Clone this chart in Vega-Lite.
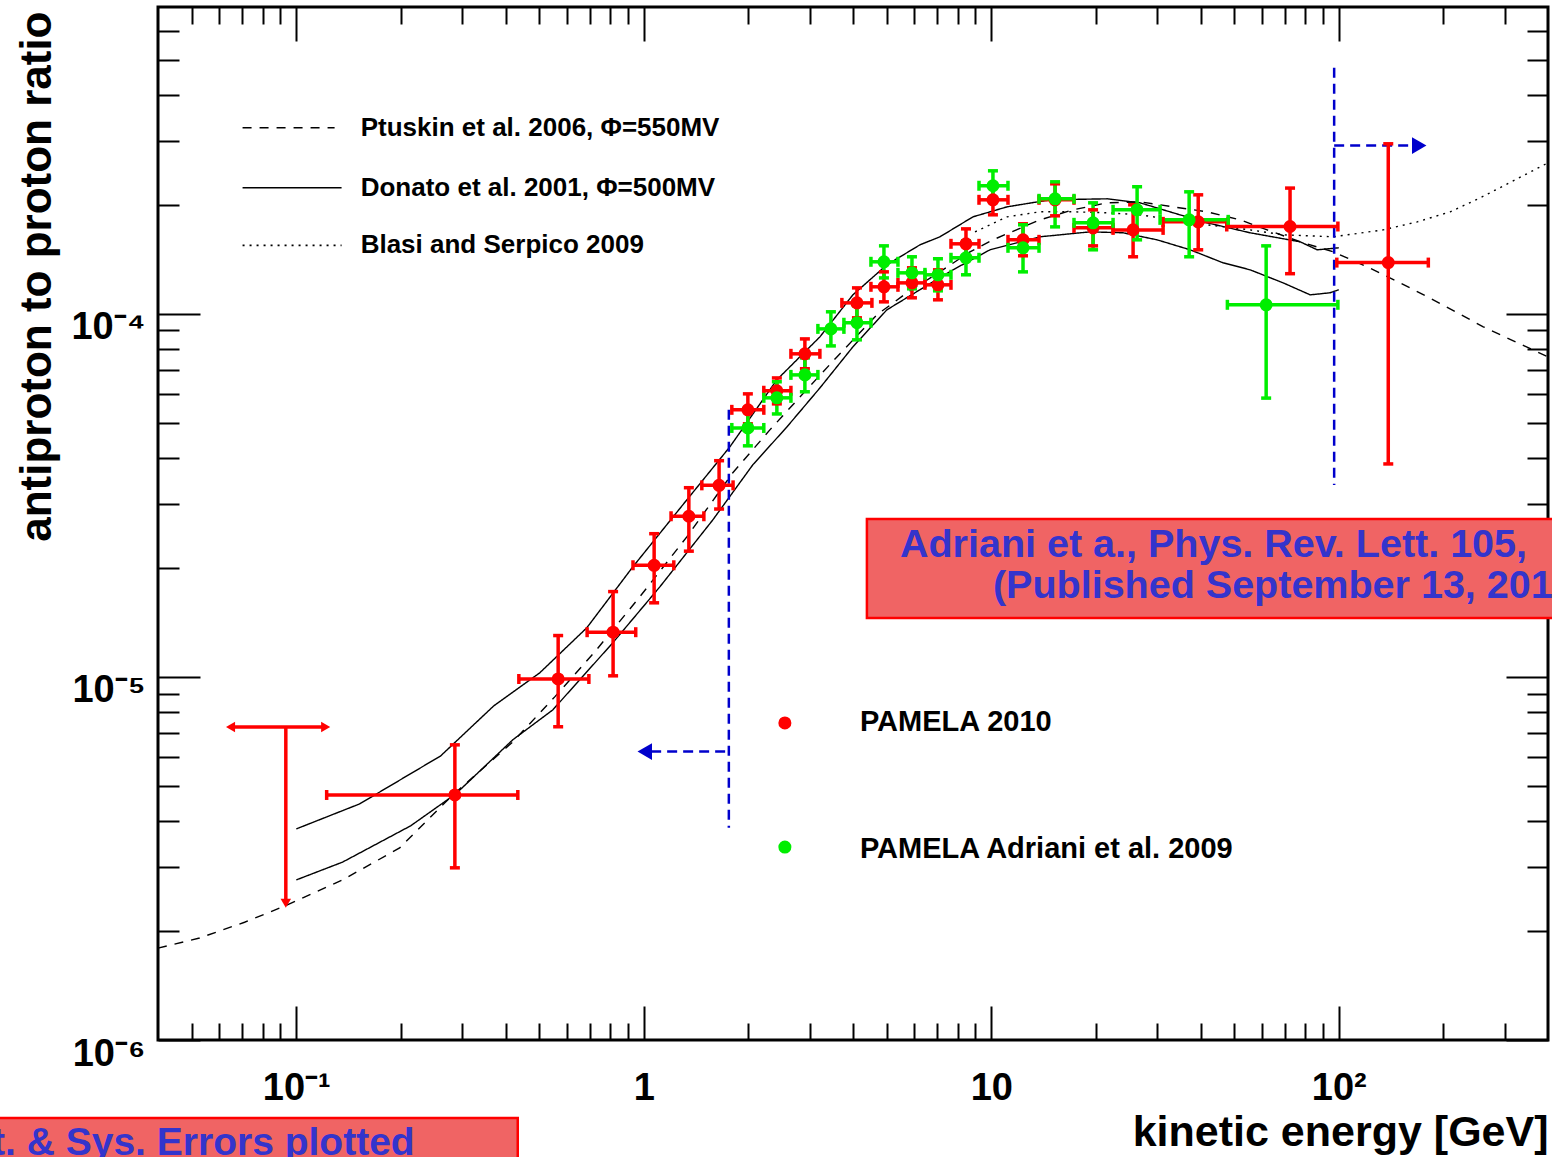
{
  "$schema": "https://vega.github.io/schema/vega-lite/v6.json",
  "width": 1390,
  "height": 1033,
  "autosize": {"type": "none"},
  "padding": {"left": 158, "top": 7, "right": 4, "bottom": 117},
  "background": "white",
  "config": {
    "font": "Liberation Sans",
    "view": {"stroke": "black", "strokeWidth": 3},
    "axis": {"domain": false, "grid": false, "tickColor": "black", "tickWidth": 2, "labelColor": "black", "titleColor": "black", "labelFont": "Liberation Sans", "titleFont": "Liberation Sans", "labelFontWeight": "bold", "titleFontWeight": "bold"}
  },
  "datasets": {
    "curves": [
      {"model": "Ptuskin", "m": "P", "E": 0.04, "R": 1.79e-6},
      {"model": "Ptuskin", "m": "P", "E": 0.05267, "R": 1.91e-6},
      {"model": "Ptuskin", "m": "P", "E": 0.07099, "R": 2.11e-6},
      {"model": "Ptuskin", "m": "P", "E": 0.09378, "R": 2.35e-6},
      {"model": "Ptuskin", "m": "P", "E": 0.1359, "R": 2.76e-6},
      {"model": "Ptuskin", "m": "P", "E": 0.1983, "R": 3.38e-6},
      {"model": "Ptuskin", "m": "P", "E": 0.28, "R": 4.70e-6},
      {"model": "Ptuskin", "m": "P", "E": 0.4196, "R": 6.62e-6},
      {"model": "Ptuskin", "m": "P", "E": 0.5543, "R": 8.81e-6},
      {"model": "Ptuskin", "m": "P", "E": 0.7226, "R": 1.172e-5},
      {"model": "Ptuskin", "m": "P", "E": 0.9738, "R": 1.662e-5},
      {"model": "Ptuskin", "m": "P", "E": 1.33, "R": 2.43e-5},
      {"model": "Ptuskin", "m": "P", "E": 1.804, "R": 3.65e-5},
      {"model": "Ptuskin", "m": "P", "E": 2.306, "R": 4.79e-5},
      {"model": "Ptuskin", "m": "P", "E": 2.813, "R": 5.90e-5},
      {"model": "Ptuskin", "m": "P", "E": 3.595, "R": 7.61e-5},
      {"model": "Ptuskin", "m": "P", "E": 4.688, "R": 9.94e-5},
      {"model": "Ptuskin", "m": "P", "E": 5.719, "R": 1.143e-4},
      {"model": "Ptuskin", "m": "P", "E": 7.116, "R": 1.305e-4},
      {"model": "Ptuskin", "m": "P", "E": 8.683, "R": 1.482e-4},
      {"model": "Ptuskin", "m": "P", "E": 10.11, "R": 1.599e-4},
      {"model": "Ptuskin", "m": "P", "E": 13.81, "R": 1.815e-4},
      {"model": "Ptuskin", "m": "P", "E": 17.19, "R": 1.934e-4},
      {"model": "Ptuskin", "m": "P", "E": 21.54, "R": 2.022e-4},
      {"model": "Ptuskin", "m": "P", "E": 26.8, "R": 2.035e-4},
      {"model": "Ptuskin", "m": "P", "E": 33.36, "R": 1.971e-4},
      {"model": "Ptuskin", "m": "P", "E": 41.79, "R": 1.910e-4},
      {"model": "Ptuskin", "m": "P", "E": 52.02, "R": 1.815e-4},
      {"model": "Ptuskin", "m": "P", "E": 62.21, "R": 1.703e-4},
      {"model": "Ptuskin", "m": "P", "E": 77.43, "R": 1.579e-4},
      {"model": "Ptuskin", "m": "P", "E": 96.36, "R": 1.482e-4},
      {"model": "Ptuskin", "m": "P", "E": 120.7, "R": 1.347e-4},
      {"model": "Ptuskin", "m": "P", "E": 150.2, "R": 1.217e-4},
      {"model": "Ptuskin", "m": "P", "E": 187, "R": 1.093e-4},
      {"model": "Ptuskin", "m": "P", "E": 260.5, "R": 9.21e-5},
      {"model": "Ptuskin", "m": "P", "E": 400, "R": 7.61e-5},
      {"model": "Donato", "m": "DU", "E": 0.1, "R": 3.814e-6},
      {"model": "Donato", "m": "DU", "E": 0.1522, "R": 4.47e-6},
      {"model": "Donato", "m": "DU", "E": 0.2603, "R": 6.06e-6},
      {"model": "Donato", "m": "DU", "E": 0.3699, "R": 8.32e-6},
      {"model": "Donato", "m": "DU", "E": 0.5018, "R": 1.026e-5},
      {"model": "Donato", "m": "DU", "E": 0.6853, "R": 1.365e-5},
      {"model": "Donato", "m": "DU", "E": 0.9297, "R": 2.009e-5},
      {"model": "Donato", "m": "DU", "E": 1.3298, "R": 3.073e-5},
      {"model": "Donato", "m": "DU", "E": 1.7684, "R": 4.30e-5},
      {"model": "Donato", "m": "DU", "E": 2.415, "R": 6.58e-5},
      {"model": "Donato", "m": "DU", "E": 3.212, "R": 8.64e-5},
      {"model": "Donato", "m": "DU", "E": 3.997, "R": 1.128e-4},
      {"model": "Donato", "m": "DU", "E": 5.008, "R": 1.365e-4},
      {"model": "Donato", "m": "DU", "E": 6.233, "R": 1.549e-4},
      {"model": "Donato", "m": "DU", "E": 7.116, "R": 1.630e-4},
      {"model": "Donato", "m": "DU", "E": 8.858, "R": 1.850e-4},
      {"model": "Donato", "m": "DU", "E": 11.1, "R": 1.971e-4},
      {"model": "Donato", "m": "DU", "E": 14.76, "R": 2.061e-4},
      {"model": "Donato", "m": "DU", "E": 21.54, "R": 2.074e-4},
      {"model": "Donato", "m": "DU", "E": 26.8, "R": 2.022e-4},
      {"model": "Donato", "m": "DU", "E": 33.36, "R": 1.898e-4},
      {"model": "Donato", "m": "DU", "E": 41.79, "R": 1.781e-4},
      {"model": "Donato", "m": "DU", "E": 55.57, "R": 1.672e-4},
      {"model": "Donato", "m": "DU", "E": 77.43, "R": 1.579e-4},
      {"model": "Donato", "m": "DU", "E": 86.67, "R": 1.501e-4},
      {"model": "Donato", "m": "DU", "E": 100, "R": 1.520e-4},
      {"model": "Donato", "m": "DL", "E": 0.1, "R": 2.76e-6},
      {"model": "Donato", "m": "DL", "E": 0.1359, "R": 3.09e-6},
      {"model": "Donato", "m": "DL", "E": 0.2134, "R": 3.89e-6},
      {"model": "Donato", "m": "DL", "E": 0.2875, "R": 4.76e-6},
      {"model": "Donato", "m": "DL", "E": 0.4196, "R": 6.71e-6},
      {"model": "Donato", "m": "DL", "E": 0.547, "R": 8.11e-6},
      {"model": "Donato", "m": "DL", "E": 0.814, "R": 1.241e-5},
      {"model": "Donato", "m": "DL", "E": 1.112, "R": 1.770e-5},
      {"model": "Donato", "m": "DL", "E": 1.58, "R": 2.707e-5},
      {"model": "Donato", "m": "DL", "E": 2.06, "R": 3.84e-5},
      {"model": "Donato", "m": "DL", "E": 2.581, "R": 4.88e-5},
      {"model": "Donato", "m": "DL", "E": 3.212, "R": 6.25e-5},
      {"model": "Donato", "m": "DL", "E": 3.997, "R": 8.11e-5},
      {"model": "Donato", "m": "DL", "E": 5.008, "R": 1.026e-4},
      {"model": "Donato", "m": "DL", "E": 6.233, "R": 1.165e-4},
      {"model": "Donato", "m": "DL", "E": 7.757, "R": 1.322e-4},
      {"model": "Donato", "m": "DL", "E": 9.915, "R": 1.501e-4},
      {"model": "Donato", "m": "DL", "E": 13.81, "R": 1.630e-4},
      {"model": "Donato", "m": "DL", "E": 19.24, "R": 1.682e-4},
      {"model": "Donato", "m": "DL", "E": 23.94, "R": 1.672e-4},
      {"model": "Donato", "m": "DL", "E": 30.0, "R": 1.599e-4},
      {"model": "Donato", "m": "DL", "E": 37.34, "R": 1.501e-4},
      {"model": "Donato", "m": "DL", "E": 46.46, "R": 1.382e-4},
      {"model": "Donato", "m": "DL", "E": 55.57, "R": 1.322e-4},
      {"model": "Donato", "m": "DL", "E": 69.17, "R": 1.217e-4},
      {"model": "Donato", "m": "DL", "E": 82.74, "R": 1.128e-4},
      {"model": "Donato", "m": "DL", "E": 94.45, "R": 1.143e-4},
      {"model": "Donato", "m": "DL", "E": 100, "R": 1.165e-4},
      {"model": "Blasi", "m": "B", "E": 8.977, "R": 1.682e-4},
      {"model": "Blasi", "m": "B", "E": 11.1, "R": 1.850e-4},
      {"model": "Blasi", "m": "B", "E": 13.81, "R": 1.910e-4},
      {"model": "Blasi", "m": "B", "E": 17.19, "R": 1.910e-4},
      {"model": "Blasi", "m": "B", "E": 21.54, "R": 1.898e-4},
      {"model": "Blasi", "m": "B", "E": 26.8, "R": 1.874e-4},
      {"model": "Blasi", "m": "B", "E": 33.36, "R": 1.815e-4},
      {"model": "Blasi", "m": "B", "E": 41.79, "R": 1.759e-4},
      {"model": "Blasi", "m": "B", "E": 55.57, "R": 1.703e-4},
      {"model": "Blasi", "m": "B", "E": 69.17, "R": 1.651e-4},
      {"model": "Blasi", "m": "B", "E": 96.36, "R": 1.630e-4},
      {"model": "Blasi", "m": "B", "E": 134.2, "R": 1.703e-4},
      {"model": "Blasi", "m": "B", "E": 168.2, "R": 1.792e-4},
      {"model": "Blasi", "m": "B", "E": 209.3, "R": 1.910e-4},
      {"model": "Blasi", "m": "B", "E": 255.4, "R": 2.087e-4},
      {"model": "Blasi", "m": "B", "E": 322.1, "R": 2.34e-4},
      {"model": "Blasi", "m": "B", "E": 400, "R": 2.606e-4}
    ],
    "pts": [
      {"s": "PAMELA 2010", "E": 0.286, "R": 4.73e-6, "Elo": 0.1223, "Ehi": 0.434, "Rlo": 2.98e-6, "Rhi": 6.5e-6},
      {"s": "PAMELA 2010", "E": 0.567, "R": 9.87e-6, "Elo": 0.437, "Ehi": 0.695, "Rlo": 7.29e-6, "Rhi": 1.30e-5},
      {"s": "PAMELA 2010", "E": 0.816, "R": 1.328e-5, "Elo": 0.687, "Ehi": 0.948, "Rlo": 1.007e-5, "Rhi": 1.718e-5},
      {"s": "PAMELA 2010", "E": 1.071, "R": 2.03e-5, "Elo": 0.931, "Ehi": 1.22, "Rlo": 1.60e-5, "Rhi": 2.48e-5},
      {"s": "PAMELA 2010", "E": 1.348, "R": 2.77e-5, "Elo": 1.198, "Ehi": 1.489, "Rlo": 2.22e-5, "Rhi": 3.32e-5},
      {"s": "PAMELA 2010", "E": 1.647, "R": 3.37e-5, "Elo": 1.469, "Ehi": 1.807, "Rlo": 2.90e-5, "Rhi": 3.94e-5},
      {"s": "PAMELA 2010", "E": 1.993, "R": 5.44e-5, "Elo": 1.792, "Ehi": 2.215, "Rlo": 4.98e-5, "Rhi": 6.02e-5},
      {"s": "PAMELA 2010", "E": 2.415, "R": 6.14e-5, "Elo": 2.215, "Ehi": 2.651, "Rlo": 5.65e-5, "Rhi": 6.66e-5},
      {"s": "PAMELA 2010", "E": 2.908, "R": 7.76e-5, "Elo": 2.651, "Ehi": 3.212, "Rlo": 7.06e-5, "Rhi": 8.53e-5},
      {"s": "PAMELA 2010", "E": 4.106, "R": 1.072e-4, "Elo": 3.716, "Ehi": 4.534, "Rlo": 9.75e-5, "Rhi": 1.179e-4},
      {"s": "PAMELA 2010", "E": 4.91, "R": 1.187e-4, "Elo": 4.505, "Ehi": 5.388, "Rlo": 1.079e-4, "Rhi": 1.305e-4},
      {"s": "PAMELA 2010", "E": 5.912, "R": 1.217e-4, "Elo": 5.388, "Ehi": 6.444, "Rlo": 1.107e-4, "Rhi": 1.339e-4},
      {"s": "PAMELA 2010", "E": 7.023, "R": 1.202e-4, "Elo": 6.444, "Ehi": 7.656, "Rlo": 1.093e-4, "Rhi": 1.322e-4},
      {"s": "PAMELA 2010", "E": 8.456, "R": 1.559e-4, "Elo": 7.656, "Ehi": 9.218, "Rlo": 1.418e-4, "Rhi": 1.714e-4},
      {"s": "PAMELA 2010", "E": 10.11, "R": 2.061e-4, "Elo": 9.218, "Ehi": 11.17, "Rlo": 1.874e-4, "Rhi": 2.267e-4},
      {"s": "PAMELA 2010", "E": 12.34, "R": 1.599e-4, "Elo": 11.17, "Ehi": 13.72, "Rlo": 1.445e-4, "Rhi": 1.770e-4},
      {"s": "PAMELA 2010", "E": 15.26, "R": 2.061e-4, "Elo": 13.72, "Ehi": 17.3, "Rlo": 1.862e-4, "Rhi": 2.281e-4},
      {"s": "PAMELA 2010", "E": 19.63, "R": 1.725e-4, "Elo": 17.3, "Ehi": 22.41, "Rlo": 1.539e-4, "Rhi": 1.934e-4},
      {"s": "PAMELA 2010", "E": 25.59, "R": 1.703e-4, "Elo": 22.41, "Ehi": 31.22, "Rlo": 1.436e-4, "Rhi": 1.997e-4},
      {"s": "PAMELA 2010", "E": 39.4, "R": 1.792e-4, "Elo": 31.22, "Ehi": 48.05, "Rlo": 1.501e-4, "Rhi": 2.127e-4},
      {"s": "PAMELA 2010", "E": 72.4, "R": 1.74e-4, "Elo": 47.6, "Ehi": 99.4, "Rlo": 1.29e-4, "Rhi": 2.22e-4},
      {"s": "PAMELA 2010", "E": 138.8, "R": 1.384e-4, "Elo": 98.7, "Ehi": 181, "Rlo": 3.86e-5, "Rhi": 2.94e-4},
      {"s": "PAMELA Adriani et al. 2009", "E": 1.993, "R": 4.85e-5, "Elo": 1.792, "Ehi": 2.215, "Rlo": 4.33e-5, "Rhi": 5.44e-5},
      {"s": "PAMELA Adriani et al. 2009", "E": 2.415, "R": 5.87e-5, "Elo": 2.215, "Ehi": 2.651, "Rlo": 5.30e-5, "Rhi": 6.50e-5},
      {"s": "PAMELA Adriani et al. 2009", "E": 2.908, "R": 6.79e-5, "Elo": 2.651, "Ehi": 3.17, "Rlo": 6.10e-5, "Rhi": 7.56e-5},
      {"s": "PAMELA Adriani et al. 2009", "E": 3.455, "R": 9.09e-5, "Elo": 3.17, "Ehi": 3.766, "Rlo": 8.16e-5, "Rhi": 1.013e-4},
      {"s": "PAMELA Adriani et al. 2009", "E": 4.106, "R": 9.45e-5, "Elo": 3.766, "Ehi": 4.505, "Rlo": 8.48e-5, "Rhi": 1.052e-4},
      {"s": "PAMELA Adriani et al. 2009", "E": 4.91, "R": 1.391e-4, "Elo": 4.505, "Ehi": 5.388, "Rlo": 1.256e-4, "Rhi": 1.539e-4},
      {"s": "PAMELA Adriani et al. 2009", "E": 5.912, "R": 1.297e-4, "Elo": 5.388, "Ehi": 6.444, "Rlo": 1.172e-4, "Rhi": 1.436e-4},
      {"s": "PAMELA Adriani et al. 2009", "E": 7.023, "R": 1.281e-4, "Elo": 6.444, "Ehi": 7.656, "Rlo": 1.157e-4, "Rhi": 1.418e-4},
      {"s": "PAMELA Adriani et al. 2009", "E": 8.456, "R": 1.427e-4, "Elo": 7.656, "Ehi": 9.218, "Rlo": 1.281e-4, "Rhi": 1.589e-4},
      {"s": "PAMELA Adriani et al. 2009", "E": 10.11, "R": 2.253e-4, "Elo": 9.218, "Ehi": 11.17, "Rlo": 2.048e-4, "Rhi": 2.477e-4},
      {"s": "PAMELA Adriani et al. 2009", "E": 12.34, "R": 1.52e-4, "Elo": 11.17, "Ehi": 13.72, "Rlo": 1.305e-4, "Rhi": 1.759e-4},
      {"s": "PAMELA Adriani et al. 2009", "E": 15.26, "R": 2.074e-4, "Elo": 13.72, "Ehi": 17.3, "Rlo": 1.736e-4, "Rhi": 2.31e-4},
      {"s": "PAMELA Adriani et al. 2009", "E": 19.63, "R": 1.781e-4, "Elo": 17.3, "Ehi": 22.41, "Rlo": 1.501e-4, "Rhi": 2.022e-4},
      {"s": "PAMELA Adriani et al. 2009", "E": 26.28, "R": 1.934e-4, "Elo": 22.41, "Ehi": 30.6, "Rlo": 1.599e-4, "Rhi": 2.239e-4},
      {"s": "PAMELA Adriani et al. 2009", "E": 37.1, "R": 1.815e-4, "Elo": 30.6, "Ehi": 48.05, "Rlo": 1.436e-4, "Rhi": 2.168e-4},
      {"s": "PAMELA Adriani et al. 2009", "E": 61.8, "R": 1.059e-4, "Elo": 47.8, "Ehi": 99.4, "Rlo": 5.86e-5, "Rhi": 1.539e-4}
    ],
    "ul": [{"E": 0.0933, "R": 7.28e-6, "Elo": 0.06469, "Ehi": 0.1215, "Rlo": 2.38e-6}],
    "leg": [
      {"model": "Ptuskin", "x1": 0.07005, "x2": 0.1289, "y": 3.254e-4, "tx": 0.1532, "t": "Ptuskin et al. 2006, Φ=550MV"},
      {"model": "Donato", "x1": 0.07005, "x2": 0.135, "y": 2.224e-4, "tx": 0.1532, "t": "Donato et al. 2001, Φ=500MV"},
      {"model": "Blasi", "x1": 0.07005, "x2": 0.135, "y": 1.544e-4, "tx": 0.1532, "t": "Blasi and Serpico 2009"}
    ],
    "dleg": [
      {"s": "PAMELA 2010", "E": 2.547, "R": 7.47e-6, "tx": 4.188, "ty": 7.10e-6},
      {"s": "PAMELA Adriani et al. 2009", "E": 2.547, "R": 3.40e-6, "tx": 4.188, "ty": 3.17e-6}
    ],
    "blue": [
      {"x1": 1.757, "x2": 1.757, "y1": 5.44e-5, "y2": 3.84e-6},
      {"x1": 1.05, "x2": 1.757, "y1": 6.23e-6, "y2": 6.23e-6},
      {"x1": 96.98, "x2": 96.98, "y1": 4.76e-4, "y2": 3.38e-5},
      {"x1": 96.98, "x2": 162.7, "y1": 2.908e-4, "y2": 2.908e-4}
    ],
    "arrows": [
      {"E": 1.0066, "R": 6.23e-6, "dir": "left"},
      {"E": 170.4, "R": 2.908e-4, "dir": "right"}
    ],
    "boxes": [
      {"x1": 4.386, "x2": 434, "y1": 2.724e-5, "y2": 1.454e-5},
      {"x1": 0.01353, "x2": 0.4338, "y1": 6.10e-7, "y2": 4.52e-7}
    ],
    "notesL": [
      {"t": "Adriani et a., Phys. Rev. Lett. 105,", "E": 5.459, "R": 2.141e-5},
      {"t": "(Published September 13, 201", "E": 10.11, "R": 1.651e-5}
    ],
    "notesR": [
      {"t": "Stat. & Sys. Errors plotted", "E": 0.2191, "R": 4.822e-7}
    ]
  },
  "resolve": {"axis": {"x": "independent", "y": "independent"}},
  "layer": [
    {
      "data": {"name": "curves"},
      "mark": {"type": "line", "color": "black", "strokeWidth": 1.4},
      "encoding": {
        "x": {"field": "E", "type": "quantitative", "scale": {"type": "log", "domain": [0.04, 400], "nice": false},
          "axis": {"orient": "bottom", "values": [0.05,0.06,0.07,0.08,0.09,0.1,0.2,0.3,0.4,0.5,0.6,0.7,0.8,0.9,1,2,3,4,5,6,7,8,9,10,20,30,40,50,60,70,80,90,100,200,300],
            "labelExpr": "datum.value==0.1?'10⁻¹':datum.value==1?'1':datum.value==10?'10':datum.value==100?'10²':''",
            "tickSize": {"condition": {"test": "datum.value==0.1||datum.value==1||datum.value==10||datum.value==100", "value": -34}, "value": -17},
            "labelPadding": 93, "labelBaseline": "alphabetic", "labelFontSize": 38, "labelFlush": false, "labelOverlap": false,
            "title": "kinetic energy [GeV]", "titleFontSize": 43, "titleAnchor": "end", "titleAlign": "right", "titleBaseline": "alphabetic", "titleX": 1390, "titleY": 105}},
        "y": {"field": "R", "type": "quantitative", "scale": {"type": "log", "domain": [1e-6, 7e-4], "nice": false},
          "axis": {"orient": "left", "values": [1e-6,2e-6,3e-6,4e-6,5e-6,6e-6,7e-6,8e-6,9e-6,1e-5,2e-5,3e-5,4e-5,5e-5,6e-5,7e-5,8e-5,9e-5,1e-4,2e-4,3e-4,4e-4,5e-4,6e-4],
            "labelExpr": "datum.value==0.000001?'10⁻⁶':datum.value==0.00001?'10⁻⁵':datum.value==0.0001?'10⁻⁴':''",
            "tickSize": {"condition": {"test": "datum.value==0.000001||datum.value==0.00001||datum.value==0.0001", "value": -42}, "value": -21},
            "labelPadding": 55, "labelOffset": 25, "labelBaseline": "alphabetic", "labelAlign": "right", "labelFontSize": 38, "labelOverlap": false, "labelFlush": false,
            "title": "antiproton to proton ratio", "titleFontSize": 44, "titleAngle": -90, "titleAnchor": "end", "titleAlign": "right", "titleBaseline": "alphabetic", "titleX": -108, "titleY": 4}},
        "detail": {"field": "m"},
        "strokeDash": {"field": "model", "type": "nominal", "scale": {"domain": ["Ptuskin", "Donato", "Blasi"], "range": [[9, 8], [1, 0], [2, 5]]}, "legend": null}
      }
    },
    {
      "data": {"name": "leg"},
      "mark": {"type": "rule", "color": "black", "strokeWidth": 1.6},
      "encoding": {
        "x": {"field": "x1", "type": "quantitative", "scale": {"type": "log", "domain": [0.04, 400], "nice": false},
          "axis": {"orient": "top", "values": [0.05,0.06,0.07,0.08,0.09,0.1,0.2,0.3,0.4,0.5,0.6,0.7,0.8,0.9,1,2,3,4,5,6,7,8,9,10,20,30,40,50,60,70,80,90,100,200,300],
            "labels": false, "title": null,
            "tickSize": {"condition": {"test": "datum.value==0.1||datum.value==1||datum.value==10||datum.value==100", "value": -34}, "value": -17}}},
        "x2": {"field": "x2"},
        "y": {"field": "y", "type": "quantitative", "scale": {"type": "log", "domain": [1e-6, 7e-4], "nice": false},
          "axis": {"orient": "right", "values": [1e-6,2e-6,3e-6,4e-6,5e-6,6e-6,7e-6,8e-6,9e-6,1e-5,2e-5,3e-5,4e-5,5e-5,6e-5,7e-5,8e-5,9e-5,1e-4,2e-4,3e-4,4e-4,5e-4,6e-4],
            "labels": false, "title": null,
            "tickSize": {"condition": {"test": "datum.value==0.000001||datum.value==0.00001||datum.value==0.0001", "value": -42}, "value": -21}}},
        "strokeDash": {"field": "model", "type": "nominal", "scale": {"domain": ["Ptuskin", "Donato", "Blasi"], "range": [[9, 8], [1, 0], [2, 5]]}, "legend": null}
      }
    },
    {
      "data": {"name": "leg"},
      "mark": {"type": "text", "align": "left", "baseline": "middle", "fontSize": 26, "fontWeight": "bold", "color": "black"},
      "encoding": {
        "x": {"field": "tx", "type": "quantitative", "scale": {"type": "log", "domain": [0.04, 400], "nice": false}, "axis": null},
        "y": {"field": "y", "type": "quantitative", "scale": {"type": "log", "domain": [1e-6, 7e-4], "nice": false}, "axis": null},
        "text": {"field": "t"}
      }
    },
    {
      "data": {"name": "blue"},
      "mark": {"type": "rule", "color": "#0000cc", "strokeWidth": 2.5, "strokeDash": [10, 6]},
      "encoding": {
        "x": {"field": "x1", "type": "quantitative", "scale": {"type": "log", "domain": [0.04, 400], "nice": false}, "axis": null},
        "x2": {"field": "x2"},
        "y": {"field": "y1", "type": "quantitative", "scale": {"type": "log", "domain": [1e-6, 7e-4], "nice": false}, "axis": null},
        "y2": {"field": "y2"}
      }
    },
    {
      "data": {"name": "arrows"},
      "mark": {"type": "point", "filled": true, "size": 280, "color": "#0000cc", "opacity": 1},
      "encoding": {
        "x": {"field": "E", "type": "quantitative", "scale": {"type": "log", "domain": [0.04, 400], "nice": false}, "axis": null},
        "y": {"field": "R", "type": "quantitative", "scale": {"type": "log", "domain": [1e-6, 7e-4], "nice": false}, "axis": null},
        "shape": {"field": "dir", "type": "nominal", "scale": {"domain": ["left", "right"], "range": ["triangle-left", "triangle-right"]}, "legend": null}
      }
    },
    {
      "data": {"name": "boxes"},
      "mark": {"type": "rect", "fill": "#f06464", "stroke": "#ff0000", "strokeWidth": 2.5},
      "encoding": {
        "x": {"field": "x1", "type": "quantitative", "scale": {"type": "log", "domain": [0.04, 400], "nice": false}, "axis": null},
        "x2": {"field": "x2"},
        "y": {"field": "y1", "type": "quantitative", "scale": {"type": "log", "domain": [1e-6, 7e-4], "nice": false}, "axis": null},
        "y2": {"field": "y2"}
      }
    },
    {
      "data": {"name": "notesL"},
      "mark": {"type": "text", "align": "left", "baseline": "alphabetic", "fontSize": 39.5, "fontWeight": "bold", "color": "#3434cc"},
      "encoding": {
        "x": {"field": "E", "type": "quantitative", "scale": {"type": "log", "domain": [0.04, 400], "nice": false}, "axis": null},
        "y": {"field": "R", "type": "quantitative", "scale": {"type": "log", "domain": [1e-6, 7e-4], "nice": false}, "axis": null},
        "text": {"field": "t"}
      }
    },
    {
      "data": {"name": "notesR"},
      "mark": {"type": "text", "align": "right", "baseline": "alphabetic", "fontSize": 39, "fontWeight": "bold", "color": "#3434cc"},
      "encoding": {
        "x": {"field": "E", "type": "quantitative", "scale": {"type": "log", "domain": [0.04, 400], "nice": false}, "axis": null},
        "y": {"field": "R", "type": "quantitative", "scale": {"type": "log", "domain": [1e-6, 7e-4], "nice": false}, "axis": null},
        "text": {"field": "t"}
      }
    },
    {
      "data": {"name": "pts"},
      "mark": {"type": "rule", "strokeWidth": 3.5},
      "encoding": {
        "x": {"field": "Elo", "type": "quantitative", "scale": {"type": "log", "domain": [0.04, 400], "nice": false}, "axis": null},
        "x2": {"field": "Ehi"},
        "y": {"field": "R", "type": "quantitative", "scale": {"type": "log", "domain": [1e-6, 7e-4], "nice": false}, "axis": null},
        "color": {"field": "s", "type": "nominal", "scale": {"domain": ["PAMELA 2010", "PAMELA Adriani et al. 2009"], "range": ["#ff0000", "#00ee00"]}, "legend": null}
      }
    },
    {
      "data": {"name": "pts"},
      "mark": {"type": "rule", "strokeWidth": 3.5},
      "encoding": {
        "x": {"field": "E", "type": "quantitative", "scale": {"type": "log", "domain": [0.04, 400], "nice": false}, "axis": null},
        "y": {"field": "Rlo", "type": "quantitative", "scale": {"type": "log", "domain": [1e-6, 7e-4], "nice": false}, "axis": null},
        "y2": {"field": "Rhi"},
        "color": {"field": "s", "type": "nominal", "scale": {"domain": ["PAMELA 2010", "PAMELA Adriani et al. 2009"], "range": ["#ff0000", "#00ee00"]}, "legend": null}
      }
    },
    {
      "data": {"name": "pts"},
      "transform": [{"fold": ["Elo", "Ehi"], "as": ["k", "xe"]}],
      "mark": {"type": "tick", "orient": "vertical", "size": 10, "thickness": 3.5, "opacity": 1},
      "encoding": {
        "x": {"field": "xe", "type": "quantitative", "scale": {"type": "log", "domain": [0.04, 400], "nice": false}, "axis": null},
        "y": {"field": "R", "type": "quantitative", "scale": {"type": "log", "domain": [1e-6, 7e-4], "nice": false}, "axis": null},
        "color": {"field": "s", "type": "nominal", "scale": {"domain": ["PAMELA 2010", "PAMELA Adriani et al. 2009"], "range": ["#ff0000", "#00ee00"]}, "legend": null}
      }
    },
    {
      "data": {"name": "pts"},
      "transform": [{"fold": ["Rlo", "Rhi"], "as": ["k", "ye"]}],
      "mark": {"type": "tick", "orient": "horizontal", "size": 10, "thickness": 3.5, "opacity": 1},
      "encoding": {
        "x": {"field": "E", "type": "quantitative", "scale": {"type": "log", "domain": [0.04, 400], "nice": false}, "axis": null},
        "y": {"field": "ye", "type": "quantitative", "scale": {"type": "log", "domain": [1e-6, 7e-4], "nice": false}, "axis": null},
        "color": {"field": "s", "type": "nominal", "scale": {"domain": ["PAMELA 2010", "PAMELA Adriani et al. 2009"], "range": ["#ff0000", "#00ee00"]}, "legend": null}
      }
    },
    {
      "data": {"name": "pts"},
      "mark": {"type": "circle", "size": 170, "opacity": 1},
      "encoding": {
        "x": {"field": "E", "type": "quantitative", "scale": {"type": "log", "domain": [0.04, 400], "nice": false}, "axis": null},
        "y": {"field": "R", "type": "quantitative", "scale": {"type": "log", "domain": [1e-6, 7e-4], "nice": false}, "axis": null},
        "color": {"field": "s", "type": "nominal", "scale": {"domain": ["PAMELA 2010", "PAMELA Adriani et al. 2009"], "range": ["#ff0000", "#00ee00"]}, "legend": null}
      }
    },
    {
      "data": {"name": "ul"},
      "mark": {"type": "rule", "color": "#ff0000", "strokeWidth": 3.5},
      "encoding": {
        "x": {"field": "Elo", "type": "quantitative", "scale": {"type": "log", "domain": [0.04, 400], "nice": false}, "axis": null},
        "x2": {"field": "Ehi"},
        "y": {"field": "R", "type": "quantitative", "scale": {"type": "log", "domain": [1e-6, 7e-4], "nice": false}, "axis": null}
      }
    },
    {
      "data": {"name": "ul"},
      "mark": {"type": "rule", "color": "#ff0000", "strokeWidth": 3.5},
      "encoding": {
        "x": {"field": "E", "type": "quantitative", "scale": {"type": "log", "domain": [0.04, 400], "nice": false}, "axis": null},
        "y": {"field": "R", "type": "quantitative", "scale": {"type": "log", "domain": [1e-6, 7e-4], "nice": false}, "axis": null},
        "y2": {"field": "Rlo"}
      }
    },
    {
      "data": {"name": "ul"},
      "mark": {"type": "point", "shape": "triangle-left", "filled": true, "size": 110, "color": "#ff0000", "opacity": 1},
      "encoding": {
        "x": {"field": "Elo", "type": "quantitative", "scale": {"type": "log", "domain": [0.04, 400], "nice": false}, "axis": null},
        "y": {"field": "R", "type": "quantitative", "scale": {"type": "log", "domain": [1e-6, 7e-4], "nice": false}, "axis": null}
      }
    },
    {
      "data": {"name": "ul"},
      "mark": {"type": "point", "shape": "triangle-right", "filled": true, "size": 110, "color": "#ff0000", "opacity": 1},
      "encoding": {
        "x": {"field": "Ehi", "type": "quantitative", "scale": {"type": "log", "domain": [0.04, 400], "nice": false}, "axis": null},
        "y": {"field": "R", "type": "quantitative", "scale": {"type": "log", "domain": [1e-6, 7e-4], "nice": false}, "axis": null}
      }
    },
    {
      "data": {"name": "ul"},
      "mark": {"type": "point", "shape": "triangle-down", "filled": true, "size": 110, "color": "#ff0000", "opacity": 1},
      "encoding": {
        "x": {"field": "E", "type": "quantitative", "scale": {"type": "log", "domain": [0.04, 400], "nice": false}, "axis": null},
        "y": {"field": "Rlo", "type": "quantitative", "scale": {"type": "log", "domain": [1e-6, 7e-4], "nice": false}, "axis": null}
      }
    },
    {
      "data": {"name": "dleg"},
      "mark": {"type": "circle", "size": 170, "opacity": 1},
      "encoding": {
        "x": {"field": "E", "type": "quantitative", "scale": {"type": "log", "domain": [0.04, 400], "nice": false}, "axis": null},
        "y": {"field": "R", "type": "quantitative", "scale": {"type": "log", "domain": [1e-6, 7e-4], "nice": false}, "axis": null},
        "color": {"field": "s", "type": "nominal", "scale": {"domain": ["PAMELA 2010", "PAMELA Adriani et al. 2009"], "range": ["#ff0000", "#00ee00"]}, "legend": null}
      }
    },
    {
      "data": {"name": "dleg"},
      "mark": {"type": "text", "align": "left", "baseline": "alphabetic", "fontSize": 29, "fontWeight": "bold", "color": "black"},
      "encoding": {
        "x": {"field": "tx", "type": "quantitative", "scale": {"type": "log", "domain": [0.04, 400], "nice": false}, "axis": null},
        "y": {"field": "ty", "type": "quantitative", "scale": {"type": "log", "domain": [1e-6, 7e-4], "nice": false}, "axis": null},
        "text": {"field": "s"}
      }
    }
  ]
}
